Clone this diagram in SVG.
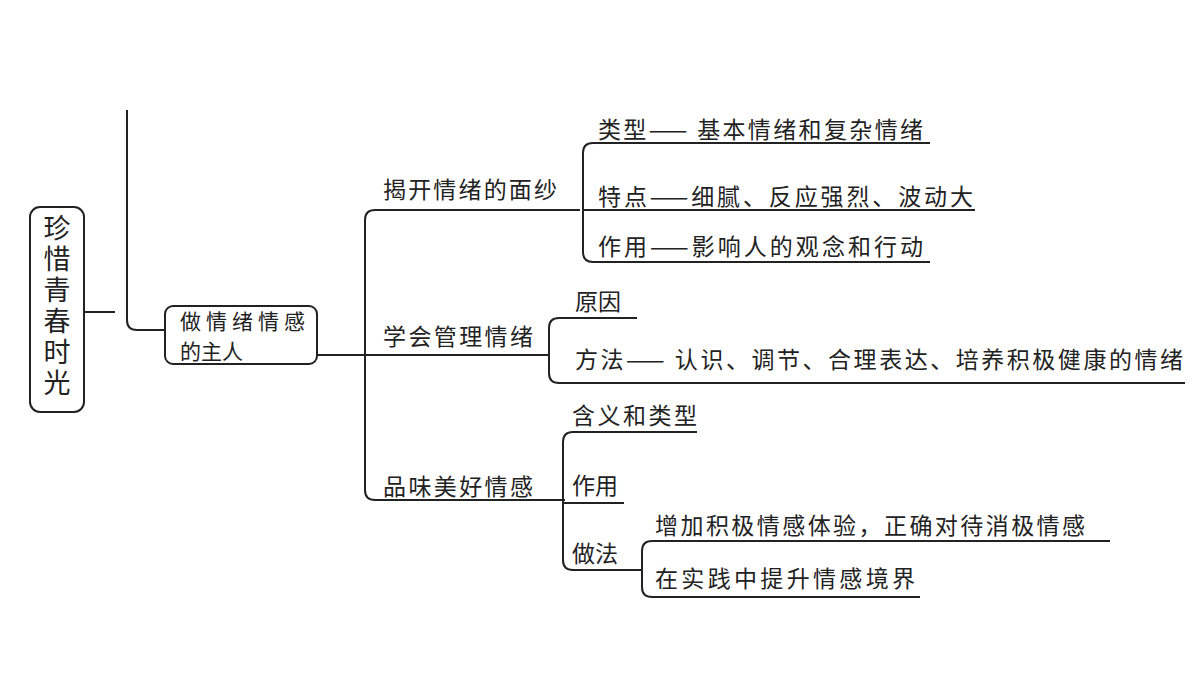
<svg xmlns="http://www.w3.org/2000/svg" width="1200" height="676" viewBox="0 0 1200 676">
<style>
text{font-family:"Noto Sans CJK SC","Liberation Sans",sans-serif;font-size:23px;fill:#222;dominant-baseline:central}
.r{font-size:27px;text-anchor:middle}
.m{font-size:21px}
.b{fill:#fff;stroke:#222;stroke-width:2}
#c path{fill:none;stroke:#222;stroke-width:2}
</style>
<rect width="1200" height="676" fill="#fff"/>
<g id="c">
<path d="M84 312H115"/>
<path d="M127 110V320Q127 330 137 330H165"/>
<path d="M317 355H550"/>
<path d="M580 210H375Q365 210 365 220V490Q365 500 375 500H565"/>
<path d="M930 143H593Q583 143 583 153V252Q583 262 593 262H930"/>
<path d="M583 210H975"/>
<path d="M637 318H559Q549 318 549 328V373Q549 383 559 383H1185"/>
<path d="M697 432H573Q563 432 563 442V560Q563 570 573 570H642"/>
<path d="M563 503H624"/>
<path d="M1110 541H652Q642 541 642 551V587Q642 597 652 597H920"/>
</g>
<g id="root"><rect class="b" x="30" y="207" width="54" height="205" rx="10"/>
<text class="r" x="57" y="226">珍</text><text class="r" x="57" y="257">惜</text><text class="r" x="57" y="288">青</text><text class="r" x="57" y="319">春</text><text class="r" x="57" y="350">时</text><text class="r" x="57" y="381">光</text></g>
<g id="main"><rect class="b" x="165" y="306" width="152" height="58" rx="8"/>
<text class="m" x="180" y="320" textLength="125">做情绪情感</text><text class="m" x="180" y="350">的主人</text></g>
<g id="n1"><text x="383" y="188" textLength="174">揭开情绪的面纱</text></g>
<g id="n2"><text x="383" y="335" textLength="150">学会管理情绪</text></g>
<g id="n3"><text x="383" y="485" textLength="150">品味美好情感</text></g>
<g id="n11"><text x="598" y="128" textLength="325">类型—— 基本情绪和复杂情绪</text></g>
<g id="n12"><text x="598" y="195" textLength="375">特点——细腻、反应强烈、波动大</text></g>
<g id="n13"><text x="598" y="245" textLength="325">作用——影响人的观念和行动</text></g>
<g id="n21"><text x="575" y="300">原因</text></g>
<g id="n22"><text x="575" y="358" textLength="608">方法—— 认识、调节、合理表达、培养积极健康的情绪</text></g>
<g id="n31"><text x="572" y="414" textLength="125">含义和类型</text></g>
<g id="n32"><text x="572" y="484">作用</text></g>
<g id="n33"><text x="572" y="552">做法</text></g>
<g id="n41"><text x="655" y="524" textLength="430">增加积极情感体验，正确对待消极情感</text></g>
<g id="n42"><text x="655" y="577" textLength="260">在实践中提升情感境界</text></g>
</svg>
